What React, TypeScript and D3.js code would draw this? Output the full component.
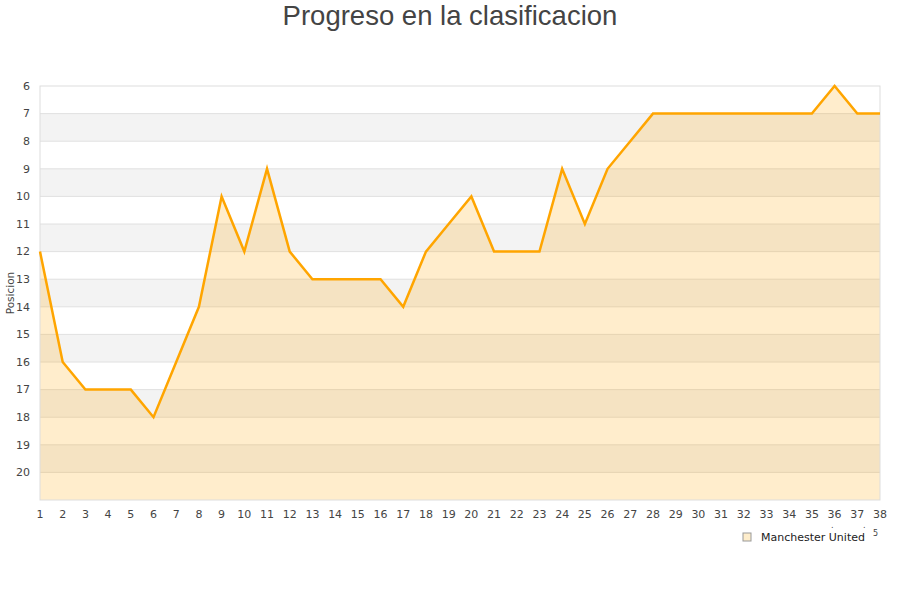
import React from "react";
import * as d3 from "d3";

const jornadas = d3.range(1, 39);
const posiciones = [12, 16, 17, 17, 17, 18, 16, 14, 10, 12, 9, 12, 13, 13, 13, 13, 14, 12, 11, 10, 12, 12, 12, 9, 11, 9, 8, 7, 7, 7, 7, 7, 7, 7, 7, 6, 7, 7];
const yTicks = d3.range(6, 21);
const seriesName = "Manchester United";
const title = "Progreso en la clasificacion";
const yLabel = "Posicion";

export default function App() {
  const W = 900, H = 600;
  const left = 40, right = 880, top = 86, bottom = 500;
  const x = d3.scaleLinear().domain([1, 38]).range([left, right]);
  const y = d3.scaleLinear().domain([6, 21]).range([top, bottom]);
  const data = jornadas.map((j, i) => ({ j, p: posiciones[i] }));
  const line = d3.line<{ j: number; p: number }>().x(d => x(d.j)).y(d => y(d.p));
  const area = d3.area<{ j: number; p: number }>().x(d => x(d.j)).y0(y(21)).y1(d => y(d.p));
  const bands = d3.range(6, 21);
  const tickFont = "DejaVu Sans, sans-serif";
  return (
    <svg width={W} height={H} style={{ position: "absolute", left: 0, top: 0 }}>
      <rect x={0} y={0} width={W} height={H} fill="#fff" />
      <text x={450} y={25} textAnchor="middle" fontFamily="Liberation Sans, Arial, sans-serif" fontSize={27.5} fill="#444">{title}</text>
      {bands.map(b => (
        <rect key={b} x={left} y={y(b)} width={right - left} height={y(b + 1) - y(b)} fill={(b - 6) % 2 === 1 ? "#f3f3f3" : "#ffffff"} />
      ))}
      {d3.range(7, 21).map(v => (
        <line key={v} x1={left} x2={right} y1={y(v)} y2={y(v)} stroke="#e0e0e0" strokeWidth={1} />
      ))}
      <path d={area(data) || ""} fill="rgba(255,165,0,0.2)" />
      <rect x={left} y={top} width={right - left} height={bottom - top} fill="none" stroke="#dddddd" strokeWidth={1} />
      <path d={line(data) || ""} fill="none" stroke="#ffa500" strokeWidth={2.5} strokeLinejoin="miter" />
      {yTicks.map(v => (
        <text key={v} x={30} y={y(v)} dy="0.35em" textAnchor="end" fontFamily={tickFont} fontSize={11} fill="#444">{v}</text>
      ))}
      {jornadas.map(j => (
        <text key={j} x={x(j)} y={518} textAnchor="middle" fontFamily={tickFont} fontSize={11} fill="#444">{j}</text>
      ))}
      <text transform={`translate(14,${(top + bottom) / 2}) rotate(-90)`} textAnchor="middle" fontFamily={tickFont} fontSize={10.5} fill="#444">{yLabel}</text>
      <rect x={743} y={533} width={8} height={8} fill="#feedcb" stroke="#999" strokeWidth={1} />
      <text x={761} y={541} fontFamily={tickFont} fontSize={11} fill="#222">{seriesName}</text>
      <text x={831} y={528} fontFamily={tickFont} fontSize={8} fill="#444">.</text>
      <text x={863} y={528} fontFamily={tickFont} fontSize={8} fill="#444">.</text>
      <text x={873} y={536} fontFamily={tickFont} fontSize={8} fill="#444">5</text>
    </svg>
  );
}
